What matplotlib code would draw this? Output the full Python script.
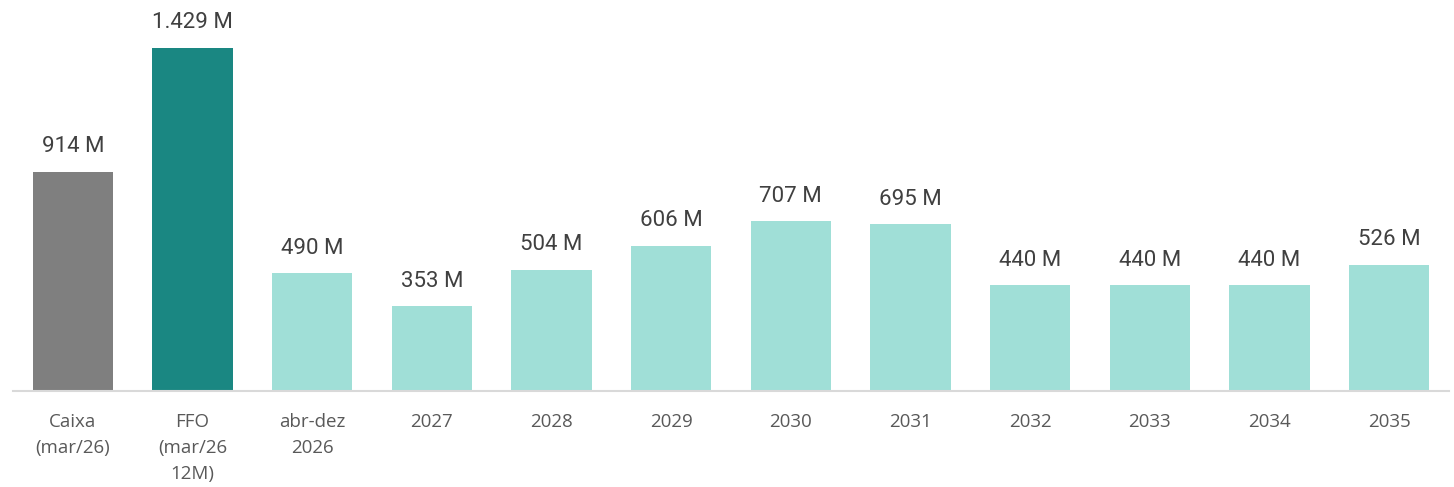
import matplotlib.pyplot as plt

# Dados do gráfico
categorias = ['Caixa\n(mar/26)', 'FFO\n(mar/26\n12M)', 'abr-dez\n2026', '2027', '2028', '2029',
              '2030', '2031', '2032', '2033', '2034', '2035']
valores = [914, 1429, 490, 353, 504, 606, 707, 695, 440, 440, 440, 526]
rotulos = ['914 M', '1.429 M', '490 M', '353 M', '504 M', '606 M', '707 M', '695 M',
           '440 M', '440 M', '440 M', '526 M']
cores = ['#7f7f7f', '#1a8782'] + ['#a0dfd7'] * 10

fig = plt.figure(figsize=(14.54, 4.87), dpi=100)
ax = fig.add_axes([13 / 1454, 96 / 487, 1436 / 1454, 391 / 487])

x = range(len(valores))
barras = ax.bar(x, valores, width=0.67, color=cores)

for b, r in zip(barras, rotulos):
    ax.annotate(r, (b.get_x() + b.get_width() / 2, b.get_height()),
                xytext=(0, 10.5), textcoords='offset points', ha='center', va='bottom',
                fontsize=16, color='#404040', family='Roboto')

ax.set_xlim(-0.5, len(valores) - 0.5)
ax.set_ylim(0, 1629)
ax.set_xticks(list(x))
ax.set_xticklabels(categorias, fontsize=13.5, color='#595959', family='Open Sans',
                   linespacing=1.55)
ax.tick_params(axis='x', length=0, pad=16)
ax.set_yticks([])

for s in ['top', 'right', 'left']:
    ax.spines[s].set_visible(False)
ax.spines['bottom'].set_color('#d9d9d9')
ax.spines['bottom'].set_linewidth(1.5)

plt.savefig('out.png', dpi=100)
